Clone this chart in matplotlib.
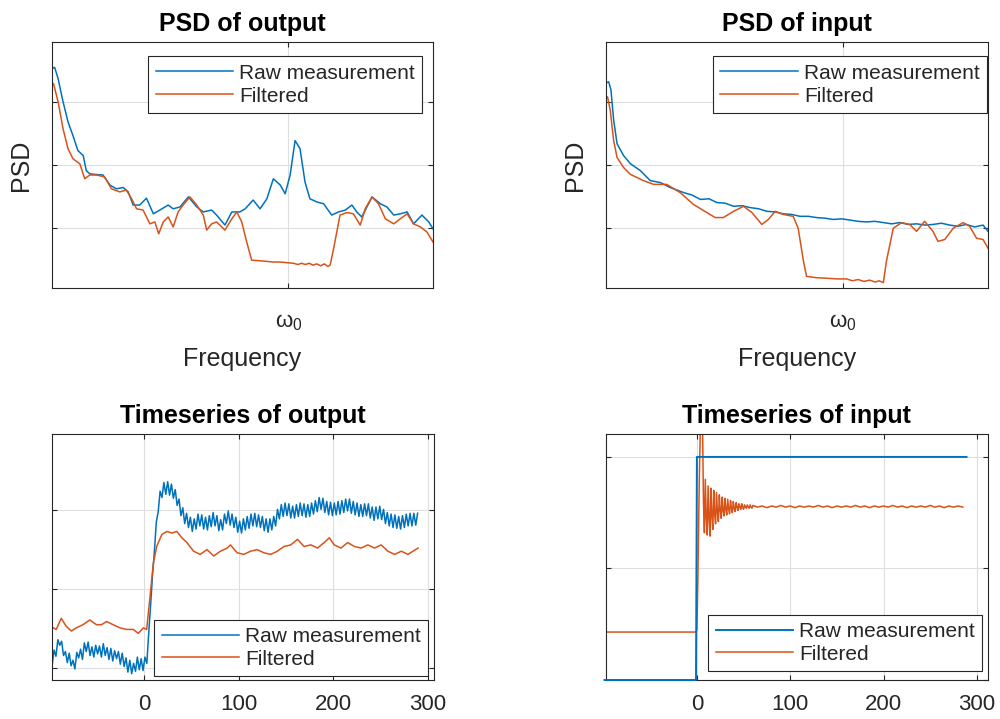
import numpy as np
import matplotlib
matplotlib.use('Agg')
import matplotlib.pyplot as plt

plt.rcParams['font.family'] = ['Liberation Sans', 'DejaVu Sans']
plt.rcParams['mathtext.fontset'] = 'custom'
plt.rcParams['mathtext.rm'] = 'Liberation Sans'
plt.rcParams['mathtext.it'] = 'Liberation Sans'
plt.rcParams['legend.fancybox'] = False

BLUE = '#0072BD'
ORANGE = '#D95319'
AXCOL = '#262626'
LABELS = ['Raw measurement', 'Filtered']

# ---- PSD of output (normalised frequency, log10 power) ----
psd_out_raw_f = [0, .007, .016, .029, .042, .055, .068, .082, .090, .099, .112, .134, .152, .169,
                 .187, .200, .213, .230, .248, .266, .283, .305, .318, .336, .358, .380, .397, .419,
                 .432, .454, .472, .493, .507, .528, .546, .564, .581, .599, .612, .625, .638, .651,
                 .664, .677, .695, .713, .734, .752, .770, .787, .800, .813, .840, .862, .879, .897,
                 .914, .932, .949, .971, .989, 1.0]
psd_out_raw = [3.54, 3.56, 3.38, 3.01, 2.69, 2.47, 2.23, 2.15, 1.91, 1.86, 1.85, 1.84, 1.68, 1.62,
               1.64, 1.57, 1.36, 1.36, 1.47, 1.22, 1.28, 1.36, 1.30, 1.33, 1.49, 1.33, 1.25, 1.28,
               1.20, 1.04, 1.25, 1.25, 1.30, 1.44, 1.30, 1.46, 1.78, 1.68, 1.54, 1.84, 2.39, 2.26,
               1.73, 1.46, 1.41, 1.38, 1.20, 1.25, 1.28, 1.36, 1.25, 1.17, 1.49, 1.38, 1.33, 1.20,
               1.22, 1.25, 1.06, 1.20, 1.09, 0.98]
psd_out_filt_f = [0, .004, .016, .029, .042, .055, .073, .086, .099, .117, .138, .156, .178, .195,
                  .209, .222, .239, .257, .270, .280, .292, .305, .318, .331, .344, .362, .380, .397,
                  .406, .419, .432, .454, .472, .485, .498, .511, .524, .545, .564, .580, .599, .615,
                  .634, .645, .655, .665, .675, .685, .695, .705, .715, .724, .730, .739, .756, .774,
                  .791, .809, .822, .840, .857, .875, .897, .914, .932, .949, .967, .984, 1.0]
psd_out_filt = [3.31, 3.30, 3.01, 2.58, 2.26, 2.10, 2.02, 1.78, 1.84, 1.84, 1.81, 1.62, 1.57, 1.60,
                1.46, 1.30, 1.28, 1.06, 1.09, 0.90, 1.09, 1.17, 1.01, 1.25, 1.36, 1.49, 1.36, 1.20,
                0.96, 1.06, 1.09, 0.96, 1.14, 1.25, 1.09, 0.77, 0.48, 0.47, 0.46, 0.45, 0.45, 0.44,
                0.43, 0.41, 0.43, 0.41, 0.43, 0.40, 0.42, 0.39, 0.42, 0.38, 0.40, 0.66, 1.20, 1.24,
                1.22, 1.04, 1.30, 1.49, 1.38, 1.14, 1.06, 1.14, 1.22, 1.06, 1.01, 0.93, 0.77]

# ---- PSD of input ----
psd_in_raw_f = [0, .007, .013, .020, .029, .046, .064, .090, .116, .142, .168, .203, .225, .247,
                .270, .290, .312, .334, .356, .377, .400, .421, .443, .464, .486, .508, .530, .551,
                .573, .595, .617, .639, .660, .682, .704, .726, .748, .769, .791, .813, .835, .856,
                .878, .900, .921, .943, .965, .987, 1.0]
psd_in_raw = [3.31, 3.33, 3.20, 2.72, 2.34, 2.15, 2.02, 1.91, 1.75, 1.72, 1.64, 1.56, 1.52, 1.45,
              1.46, 1.40, 1.39, 1.34, 1.35, 1.32, 1.30, 1.26, 1.25, 1.22, 1.21, 1.18, 1.18, 1.16,
              1.15, 1.13, 1.14, 1.12, 1.10, 1.09, 1.10, 1.08, 1.06, 1.08, 1.05, 1.06, 1.04, 1.05,
              1.07, 1.04, 1.02, 1.05, 1.01, 1.04, 0.94]
psd_in_filt_f = [0, .004, .011, .020, .029, .046, .064, .098, .125, .159, .194, .229, .264, .286,
                 .307, .334, .360, .382, .408, .425, .443, .464, .490, .503, .517, .525, .550, .578,
                 .605, .630, .645, .660, .675, .690, .705, .715, .726, .734, .752, .774, .795, .813,
                 .834, .856, .869, .887, .909, .935, .952, .970, .987, 1.0]
psd_in_filt = [3.06, 3.09, 2.88, 2.39, 2.12, 1.96, 1.85, 1.75, 1.69, 1.69, 1.56, 1.37, 1.24, 1.16,
               1.16, 1.26, 1.34, 1.24, 1.05, 1.13, 1.26, 1.21, 1.18, 0.99, 0.46, 0.22, 0.20, 0.19,
               0.18, 0.18, 0.15, 0.17, 0.14, 0.16, 0.13, 0.15, 0.12, 0.46, 0.99, 1.08, 1.05, 0.94,
               1.10, 0.94, 0.78, 0.81, 0.99, 1.08, 1.02, 0.83, 0.81, 0.67]

# ---- Timeseries of output, raw samples every 2 time units from t = -99 ----
ts_out_raw = [0.10, 0.04, 0.23, 0.15, 0.36, 0.29, 0.34, 0.16, 0.21, 0.07,
              0.19, 0.03, 0.10, -0.01, 0.20, 0.13, 0.24, 0.11, 0.32, 0.21,
              0.33, 0.16, 0.27, 0.14, 0.29, 0.18, 0.28, 0.14, 0.31, 0.16,
              0.26, 0.11, 0.25, 0.09, 0.22, 0.12, 0.21, 0.05, 0.19, 0.02,
              0.13, -0.05, 0.10, -0.07, 0.06, -0.04, 0.14, -0.02, 0.12, -0.03,
              0.14, 0.06, 0.45, 0.80, 1.18, 1.48, 1.85, 1.98, 2.24, 2.16,
              2.35, 2.20, 2.36, 2.19, 2.33, 2.15, 2.26, 2.06, 2.14, 1.93,
              2.03, 1.83, 1.96, 1.78, 1.91, 1.73, 1.89, 1.76, 1.95, 1.80,
              1.94, 1.76, 1.91, 1.75, 1.93, 1.79, 1.97, 1.80, 1.93, 1.74,
              1.88, 1.75, 1.95, 1.83, 1.99, 1.81, 1.95, 1.78, 1.91, 1.72,
              1.86, 1.71, 1.89, 1.75, 1.92, 1.77, 1.95, 1.80, 1.96, 1.79,
              1.94, 1.78, 1.92, 1.74, 1.89, 1.72, 1.89, 1.75, 1.92, 1.80,
              2.01, 1.89, 2.07, 1.92, 2.09, 1.93, 2.08, 1.90, 2.05, 1.90,
              2.07, 1.92, 2.09, 1.93, 2.08, 1.91, 2.07, 1.92, 2.09, 1.95,
              2.12, 1.98, 2.16, 2.01, 2.15, 1.97, 2.11, 1.94, 2.10, 1.93,
              2.09, 1.94, 2.11, 1.95, 2.12, 1.97, 2.14, 1.99, 2.14, 1.96,
              2.11, 1.94, 2.09, 1.92, 2.07, 1.92, 2.08, 1.93, 2.08, 1.90,
              2.04, 1.87, 2.04, 1.89, 2.05, 1.88, 2.01, 1.83, 1.97, 1.80,
              1.95, 1.78, 1.94, 1.77, 1.92, 1.76, 1.93, 1.78, 1.95, 1.80,
              1.96, 1.80, 1.96, 1.81, 1.96]
ts_out_raw_t = np.arange(len(ts_out_raw)) * 2 - 99

ts_out_filt_t = [-98.7, -92.7, -87.4, -82.1, -76.8, -71.5, -64.4, -57.3, -50.2, -44.9, -39.6,
                 -32.6, -25.5, -18.4, -11.3, -6.0, -0.7, 2.8, 6.4, 9.9, 13.4, 18.8, 24.1, 29.4,
                 34.7, 40.0, 45.3, 52.4, 59.4, 66.5, 73.6, 80.7, 87.8, 91.3, 98.4, 105.4, 112.5,
                 119.6, 126.7, 133.8, 140.8, 147.9, 155.0, 162.1, 169.1, 176.2, 183.3, 190.4,
                 195.7, 201.0, 208.1, 215.1, 222.2, 229.3, 236.4, 243.5, 250.5, 257.6, 264.7,
                 271.8, 278.8, 284.1, 289.5]
ts_out_filt = [0.53, 0.49, 0.63, 0.53, 0.47, 0.51, 0.55, 0.61, 0.55, 0.55, 0.59,
               0.55, 0.51, 0.49, 0.49, 0.44, 0.51, 0.49, 0.91, 1.33, 1.54, 1.69, 1.73, 1.71,
               1.73, 1.65, 1.59, 1.48, 1.44, 1.50, 1.42, 1.48, 1.52, 1.56, 1.46, 1.44, 1.48,
               1.50, 1.46, 1.44, 1.48, 1.54, 1.56, 1.63, 1.54, 1.56, 1.52, 1.59,
               1.65, 1.56, 1.52, 1.59, 1.54, 1.52, 1.56, 1.52, 1.56, 1.48, 1.44,
               1.48, 1.44, 1.48, 1.52]

# ---- Timeseries of input ----
ts_in_raw_t = [-99, -1, 0, 289]
ts_in_raw = [0, 0, 2, 2]
ts_in_filt_t = [-99, -1] + list(range(0, 61)) + list(range(65, 290, 5))
ts_in_filt = ([0.43, 0.43] +
              [0.45, 0.90, 1.50, 2.00, 2.35, 2.60, 2.30, 1.60, 1.32, 1.80,
               1.45, 1.30, 1.74, 1.45, 1.29, 1.72, 1.47, 1.35, 1.70, 1.48,
               1.40, 1.68, 1.50, 1.42, 1.66, 1.52, 1.45, 1.64, 1.52, 1.47,
               1.63, 1.53, 1.48, 1.62, 1.53, 1.49, 1.61, 1.54, 1.50, 1.60,
               1.54, 1.51, 1.59, 1.55, 1.52, 1.58, 1.55, 1.53, 1.58, 1.55,
               1.53, 1.57, 1.55, 1.54, 1.57, 1.55, 1.54, 1.57, 1.55, 1.54,
               1.565] +
              [1.55, 1.56, 1.545, 1.56, 1.55, 1.565, 1.55, 1.56, 1.545, 1.56,
               1.55, 1.56, 1.55, 1.565, 1.55, 1.56, 1.545, 1.56, 1.55, 1.56,
               1.55, 1.565, 1.55, 1.56, 1.545, 1.56, 1.55, 1.56, 1.55, 1.565,
               1.55, 1.56, 1.545, 1.56, 1.55, 1.56, 1.55, 1.565, 1.55, 1.56,
               1.545, 1.56, 1.55, 1.56, 1.55])

W, H = 1000, 719


def style(ax):
    ax.grid(True, color='#dedede', linewidth=0.8)
    ax.set_axisbelow(True)
    for s in ax.spines.values():
        s.set_color(AXCOL)
        s.set_linewidth(0.8)
    ax.tick_params(direction='in', top=True, right=True, length=3.5, width=0.8,
                   color=AXCOL, labelcolor=AXCOL, labelsize=16)
    ax.set_yticklabels([])


def add_legend(ax, loc, anchor):
    leg = ax.legend(LABELS, loc=loc, bbox_to_anchor=anchor, fontsize=15, handlelength=3.7,
                    handletextpad=0.3, borderpad=0.35, labelspacing=0.18, borderaxespad=0,
                    frameon=True, framealpha=1, labelcolor=AXCOL)
    leg.get_frame().set_edgecolor(AXCOL)
    leg.get_frame().set_linewidth(0.8)


def make_axes(fig, left, top, right, bottom):
    return fig.add_axes([left / W, 1 - bottom / H, (right - left) / W, (bottom - top) / H])


fig = plt.figure(figsize=(10, 7.19), dpi=100)

# PSD panels
for (left, right), title, fr, raw, ff, filt, legx in [
        ((52, 433), 'PSD of output', psd_out_raw_f, psd_out_raw, psd_out_filt_f, psd_out_filt, 0.971),
        ((606, 988), 'PSD of input', psd_in_raw_f, psd_in_raw, psd_in_filt_f, psd_in_filt, 0.997)]:
    ax = make_axes(fig, left, 41.7, right, 288.3)
    ax.plot(fr, raw, color=BLUE, lw=1.1)
    ax.plot(ff, filt, color=ORANGE, lw=1.1)
    ax.set_xlim(0, 1)
    ax.set_ylim(0.03, 3.97)
    ax.set_xticks([0.62])
    ax.set_yticks([1, 2, 3])
    style(ax)
    ax.set_xticklabels([r'$\omega_0$'])
    ax.tick_params(axis='x', pad=17)
    ax.set_title(title, fontsize=18, fontweight='bold', pad=7.5)
    ax.set_xlabel('Frequency', fontsize=18, color=AXCOL)
    ax.set_ylabel('PSD', fontsize=18, color=AXCOL)
    ax.xaxis.set_label_coords(0.5, -0.24)
    ax.yaxis.set_label_coords(-0.05, 0.5)
    add_legend(ax, 'upper right', (legx, 0.94))

# timeseries of output
ax = make_axes(fig, 51.5, 433.5, 434, 680)
ax.plot(ts_out_raw_t, ts_out_raw, color=BLUE, lw=1.1)
ax.plot(ts_out_filt_t, ts_out_filt, color=ORANGE, lw=1.1)
ax.set_xlim(-97.7, 306.3)
ax.set_ylim(-0.15, 2.97)
ax.set_xticks([0, 100, 200, 300])
ax.set_yticks([0, 1, 2])
style(ax)
ax.tick_params(axis='x', pad=10)
ax.set_title('Timeseries of output', fontsize=18, fontweight='bold', pad=7.5)
add_legend(ax, 'lower right', (0.984, 0.016))

# timeseries of input
ax = make_axes(fig, 605.5, 433.5, 988, 680)
ax.plot(ts_in_raw_t, ts_in_raw, color=BLUE, lw=1.4, clip_on=False, zorder=3)
ax.plot(ts_in_filt_t, ts_in_filt, color=ORANGE, lw=1.1)
ax.set_xlim(-98, 312)
ax.set_ylim(0, 2.21)
ax.set_xticks([0, 100, 200, 300])
ax.set_yticks([0, 1, 2])
style(ax)
ax.tick_params(axis='x', pad=10)
ax.set_title('Timeseries of input', fontsize=18, fontweight='bold', pad=7.5)
add_legend(ax, 'lower right', (0.984, 0.037))

fig.savefig('out.png', dpi=100)
